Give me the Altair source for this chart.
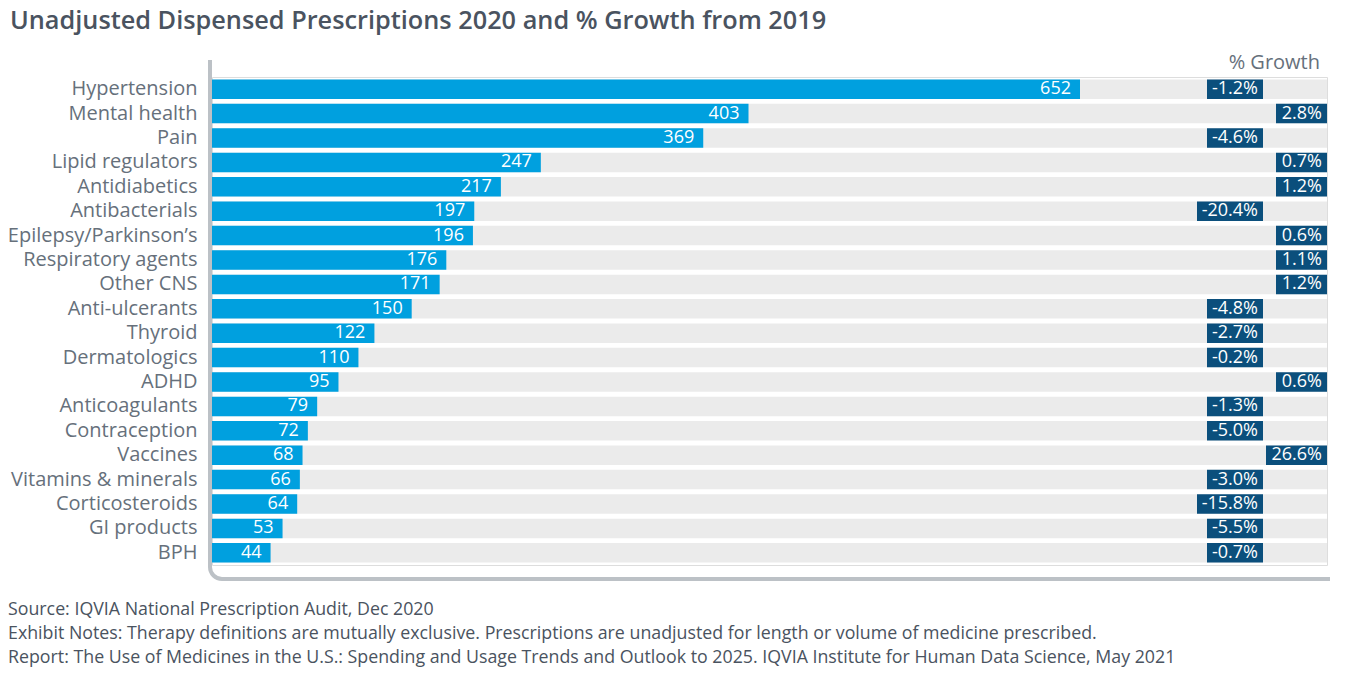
import math
import altair as alt
import pandas as pd

# ---------------- data ----------------
categories = [
    "Hypertension", "Mental health", "Pain", "Lipid regulators", "Antidiabetics",
    "Antibacterials", "Epilepsy/Parkinson\u2019s", "Respiratory agents", "Other CNS",
    "Anti-ulcerants", "Thyroid", "Dermatologics", "ADHD", "Anticoagulants",
    "Contraception", "Vaccines", "Vitamins & minerals", "Corticosteroids",
    "GI products", "BPH",
]
rx_2020 = [652, 403, 369, 247, 217, 197, 196, 176, 171, 150,
           122, 110, 95, 79, 72, 68, 66, 64, 53, 44]
growth_pct = [-1.2, 2.8, -4.6, 0.7, 1.2, -20.4, 0.6, 1.1, 1.2, -4.8,
              -2.7, -0.2, 0.6, -1.3, -5.0, 26.6, -3.0, -15.8, -5.5, -0.7]

title_text = "Unadjusted Dispensed Prescriptions 2020 and % Growth from 2019"
growth_header = "% Growth"
footer_lines = [
    "Source: IQVIA National Prescription Audit, Dec 2020",
    "Exhibit Notes: Therapy definitions are mutually exclusive. Prescriptions are unadjusted for length or volume of medicine prescribed.",
    "Report: The Use of Medicines in the U.S.: Spending and Usage Trends and Outlook to 2025. IQVIA Institute for Human Data Science, May 2021",
]

df = pd.DataFrame({"category": categories, "rx": rx_2020, "growth": growth_pct})

# ---------------- layout ----------------
W, H = 1115, 488
PX = 868 / 652            # pixels per unit
XMAX = W / PX
NEG_ANCHOR = 1051 / PX
POS_ANCHOR = W / PX

FONT = "Open Sans"
BLUE = "#00A0DF"
NAVY = "#0B4F7C"
BG = "#EBEBEB"
AXIS_GRAY = "#BCC1C6"
LABEL_GRAY = "#66707B"
TEXT_DARK = "#4A5360"

xs = alt.Scale(domain=[0, XMAX], nice=False, zero=True)
ys = alt.Scale(paddingInner=0.2, paddingOuter=0.1)

base = alt.Chart(df).encode(
    y=alt.Y(
        "category:N", sort=categories, scale=ys, title=None,
        axis=alt.Axis(domain=False, ticks=False, labelFontSize=20,
                      labelColor=LABEL_GRAY, labelFont=FONT, labelPadding=15,
                      labelLimit=0),
    )
)

bg = base.transform_calculate(full=str(XMAX)).mark_bar(color=BG).encode(
    x=alt.X("full:Q", scale=xs, axis=None)
)
bars = base.mark_bar(color=BLUE).encode(x=alt.X("rx:Q", scale=xs, axis=None))
bar_labels = base.mark_text(
    align="right", baseline="middle", dx=-9, color="white", fontSize=18, font=FONT
).encode(x=alt.X("rx:Q", scale=xs, axis=None), text=alt.Text("rx:Q"))

g = (
    base.transform_calculate(
        glabel="(datum.growth < 0 ? '-' : '') + format(abs(datum.growth), '.1f') + '%'"
    )
    .transform_calculate(digits="abs(datum.growth) >= 10 ? 3 : 2")
    .transform_calculate(boxpx="31 + 10 * datum.digits + (datum.growth < 0 ? 5 : 0)")
    .transform_calculate(anchor=f"datum.growth < 0 ? {NEG_ANCHOR} : {POS_ANCHOR}")
    .transform_calculate(left=f"datum.anchor - datum.boxpx / {PX}")
)
gbox = g.mark_rect(color=NAVY).encode(
    x=alt.X("left:Q", scale=xs, axis=None), x2="anchor:Q"
)
gtext = g.mark_text(
    align="right", baseline="middle", dx=-5, color="white", fontSize=18, font=FONT
).encode(x=alt.X("anchor:Q", scale=xs, axis=None), text="glabel:N")

one = pd.DataFrame({"k": [0]})
left_line = alt.Chart(one).mark_rule(color=AXIS_GRAY, strokeWidth=4).encode(
    x=alt.value(-2), y=alt.value(-17), y2=alt.value(490)
)
bottom_line = alt.Chart(one).mark_rule(color=AXIS_GRAY, strokeWidth=4).encode(
    x=alt.value(10), x2=alt.value(1118), y=alt.value(502)
)
corner = alt.Chart(one).mark_arc(
    innerRadius=10, outerRadius=14, theta=math.pi, theta2=1.5 * math.pi, color=AXIS_GRAY
).encode(x=alt.value(10), y=alt.value(490))


def label(text, x, y, size, color, align="left", weight="normal"):
    return alt.Chart(pd.DataFrame({"t": [text]})).mark_text(
        align=align, baseline="middle", fontSize=size, font=FONT,
        color=color, fontWeight=weight
    ).encode(x=alt.value(x), y=alt.value(y), text="t:N")


title = label(title_text, -202, -56, 25.3, TEXT_DARK, weight=600)
header = label(growth_header, 1108, -14, 20, LABEL_GRAY, align="right")
footers = [label(t, -204, y, 17.8, TEXT_DARK) for t, y in zip(footer_lines, [533, 557, 581])]

chart = alt.layer(
    bg, bars, bar_labels, gbox, gtext, left_line, bottom_line, corner, title, header, *footers
).properties(
    width=W, height=H,
    padding={"left": 204, "top": 69, "right": 17, "bottom": 109},
    autosize=alt.AutoSizeParams(type="none"),
).configure_view(stroke=None).configure(font=FONT)

chart.save("out.html", embed_options={"renderer": "svg", "actions": False})
